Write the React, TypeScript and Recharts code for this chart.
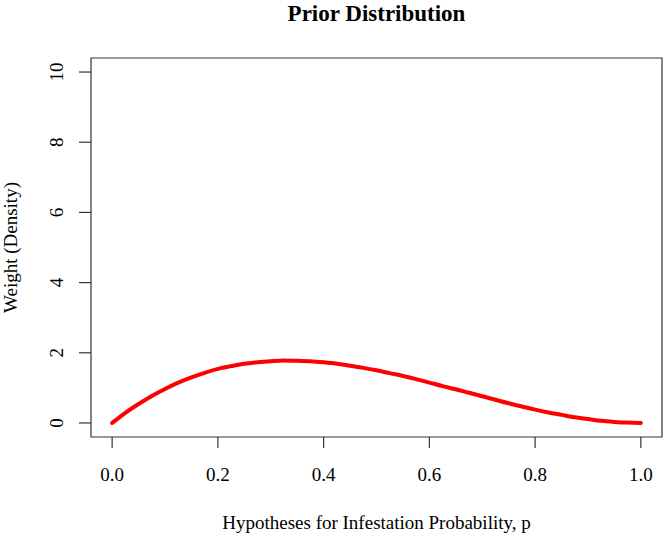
import React from "react";
import { LineChart, Line, XAxis, YAxis, ReferenceArea } from "recharts";

const pValues = [0, 0.025, 0.05, 0.075, 0.1, 0.125, 0.15, 0.175, 0.2, 0.225, 0.25, 0.275, 0.3, 0.325, 0.35, 0.375, 0.4, 0.425, 0.45, 0.475, 0.5, 0.525, 0.55, 0.575, 0.6, 0.625, 0.65, 0.675, 0.7, 0.725, 0.75, 0.775, 0.8, 0.825, 0.85, 0.875, 0.9, 0.925, 0.95, 0.975, 1];
const densityValues = [0, 0.29, 0.54, 0.77, 0.97, 1.15, 1.3, 1.43, 1.54, 1.62, 1.69, 1.73, 1.76, 1.78, 1.77, 1.76, 1.73, 1.69, 1.63, 1.57, 1.5, 1.42, 1.34, 1.25, 1.15, 1.05, 0.96, 0.86, 0.76, 0.66, 0.56, 0.47, 0.38, 0.3, 0.23, 0.16, 0.11, 0.06, 0.03, 0.01, 0];
const xTicks = [0, 0.2, 0.4, 0.6, 0.8, 1.0];
const yTicks = [0, 2, 4, 6, 8, 10];

const data = pValues.map((p, i) => ({ p, d: densityValues[i] }));

const FONT = "'Liberation Serif', 'Times New Roman', serif";
const AXIS = "#333";
const FS = 19;

const XTick = (props: any) => {
  const { x, y, payload } = props;
  return (
    <g>
      <line x1={x} y1={y} x2={x} y2={y + 11} stroke={AXIS} strokeWidth={1.2} />
      <text x={x} y={y + 44} textAnchor="middle" fontFamily={FONT} fontSize={FS} fill="#000">
        {Number(payload.value).toFixed(1)}
      </text>
    </g>
  );
};

const YTick = (props: any) => {
  const { x, y, payload } = props;
  const tx = x - 28;
  return (
    <g>
      <line x1={x - 12} y1={y} x2={x} y2={y} stroke={AXIS} strokeWidth={1.2} />
      <text x={tx} y={y} textAnchor="middle" fontFamily={FONT} fontSize={FS} fill="#000" transform={`rotate(-90, ${tx}, ${y})`}>
        {payload.value}
      </text>
    </g>
  );
};

export default function App() {
  return (
    <div style={{ position: "absolute", left: 0, top: 0, width: 663, height: 533, background: "#fff" }}>
      <LineChart width={663} height={533} data={data} margin={{ top: 58, right: 1, bottom: 0, left: 0 }}>
        <text x={376.5} y={21} textAnchor="middle" fontFamily={FONT} fontSize={23} fontWeight="bold" fill="#000">
          Prior Distribution
        </text>
        <text x={376.5} y={529} textAnchor="middle" fontFamily={FONT} fontSize={FS} fill="#000">
          Hypotheses for Infestation Probability, p
        </text>
        <text x={17} y={247.5} textAnchor="middle" fontFamily={FONT} fontSize={FS} fill="#000" transform="rotate(-90, 17, 247.5)">
          Weight (Density)
        </text>
        <XAxis
          dataKey="p"
          type="number"
          domain={[-0.04, 1.04]}
          ticks={xTicks}
          height={96}
          axisLine={false}
          tickLine={false}
          tickSize={0}
          tickMargin={0}
          tick={<XTick />}
          interval={0}
        />
        <YAxis
          type="number"
          domain={[-0.4, 10.4]}
          ticks={yTicks}
          width={91}
          axisLine={false}
          tickLine={false}
          tickSize={0}
          tickMargin={0}
          tick={<YTick />}
          interval={0}
        />
        <ReferenceArea x1={-0.04} x2={1.04} y1={-0.4} y2={10.4} fill="none" stroke={AXIS} strokeWidth={1.2} ifOverflow="visible" />
        <Line type="monotone" dataKey="d" stroke="#ff0000" strokeWidth={4} dot={false} strokeLinecap="round" isAnimationActive={false} />
      </LineChart>
    </div>
  );
}
